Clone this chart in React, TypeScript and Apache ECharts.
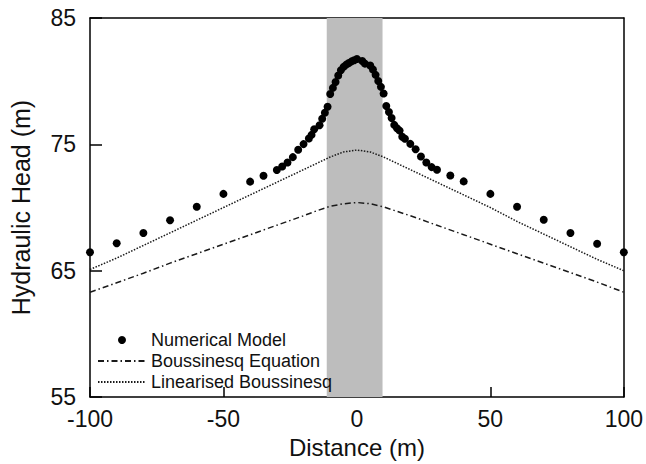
import React, { useEffect, useRef } from "react";
import * as echarts from "echarts";

// Numerical model (dots)
const numX = [
  -100, -90, -80, -70, -60, -50, -40, -35, -30, -28, -26, -24, -22, -20, -18, -17, -16, -14, -13, -12, -11,
  -10, -9, -8, -7, -6, -5, -4, -3, -2, -1, 0,
  2, 3, 5, 6, 7, 8, 9, 10, 11, 12, 13, 14, 15, 16, 17, 18, 20, 22, 24, 26, 28, 30, 35, 40, 50, 60, 70, 80, 90, 100,
];
const numY = [
  66.46, 67.17, 67.98, 69.0, 70.06, 71.08, 72.05, 72.52, 72.97, 73.25, 73.57, 73.99, 74.57, 75.02, 75.46, 75.75, 76.2, 76.51, 77.03, 77.5, 77.98,
  78.98, 79.47, 79.94, 80.45, 80.87, 81.13, 81.31, 81.44, 81.57, 81.65, 81.75,
  81.6, 81.39, 81.24, 80.92, 80.5, 80.02, 79.55, 79.03, 78.03, 77.56, 77.09, 76.54, 76.28, 76.09, 75.6, 75.45, 75.04, 74.62, 74.04, 73.57, 73.2, 72.99, 72.54, 72.07, 71.08, 70.06, 69.03, 67.98, 67.14, 66.46,
];

// Analytical curves
const lineX = [-100, -90, -80, -70, -60, -50, -40, -30, -20, -15, -10, -5, 0, 5, 10, 15, 20, 30, 40, 50, 60, 70, 80, 90, 100];
const boussY = [
  63.3, 64.05, 64.8, 65.6, 66.35, 67.1, 67.85, 68.6, 69.35, 69.75, 70.1, 70.3, 70.4, 70.3, 70.05, 69.7, 69.35, 68.6, 67.85, 67.1, 66.35, 65.6, 64.85, 64.1, 63.3,
];
const linY = [
  65.1, 66.0, 67.0, 68.0, 69.0, 70.0, 71.0, 72.0, 73.0, 73.5, 74.0, 74.4, 74.55, 74.4, 74.0, 73.5, 73.0, 72.0, 71.0, 70.0, 68.9, 67.9, 66.9, 65.9, 65.0,
];

const bandRange = [-11.3, 9.6];
const xTicks = { min: -100, max: 100, interval: 50 };
const yTicks = { min: 55, max: 85, interval: 10 };
const legendNames = ["Numerical Model", "Boussinesq Equation", "Linearised Boussinesq"];

const FONT = "Liberation Sans, Arial, Helvetica, sans-serif";

export default function App() {
  const ref = useRef<HTMLDivElement>(null);
  useEffect(() => {
    if (!ref.current) return;
    const chart = echarts.init(ref.current, null, { renderer: "svg" });
    const axisLine = { show: true, onZero: false, lineStyle: { color: "#000", width: 1.5 } };
    const hiddenSym = { color: "rgba(0,0,0,0)", borderWidth: 0 };
    chart.setOption({
      animation: false,
      backgroundColor: "#fff",
      textStyle: { fontFamily: FONT },
      grid: { left: 89, right: 19, top: 18, bottom: 65 },
      legend: {
        data: [
          { name: legendNames[0] },
          { name: legendNames[1], itemStyle: hiddenSym },
          { name: legendNames[2], itemStyle: hiddenSym },
        ],
        orient: "vertical",
        left: 92,
        top: 326,
        itemWidth: 48,
        itemHeight: 8,
        itemGap: 3,
        textStyle: { fontSize: 18, color: "#111", fontFamily: FONT },
      },
      xAxis: [
        {
          type: "value",
          ...xTicks,
          name: "Distance (m)",
          nameLocation: "middle",
          nameGap: 32,
          nameTextStyle: { fontSize: 24, color: "#111", fontFamily: FONT },
          axisLine,
          axisTick: { show: true, inside: true, length: 10, lineStyle: { color: "#000", width: 1.5 } },
          axisLabel: { fontSize: 23, color: "#111", margin: 10, fontFamily: FONT },
          splitLine: { show: false },
        },
        {
          type: "value",
          position: "top",
          ...xTicks,
          axisLine,
          axisTick: { show: false },
          axisLabel: { show: false },
          splitLine: { show: false },
        },
      ],
      yAxis: [
        {
          type: "value",
          ...yTicks,
          name: "Hydraulic Head (m)",
          nameLocation: "middle",
          nameGap: 57,
          nameTextStyle: { fontSize: 25, color: "#111", fontFamily: FONT },
          axisLine,
          axisTick: { show: true, inside: true, length: 12, lineStyle: { color: "#000", width: 1.5 } },
          axisLabel: { fontSize: 23, color: "#111", margin: 14, fontFamily: FONT },
          splitLine: { show: false },
        },
        {
          type: "value",
          position: "right",
          ...yTicks,
          axisLine,
          axisTick: { show: false },
          axisLabel: { show: false },
          splitLine: { show: false },
        },
      ],
      series: [
        {
          name: "band",
          type: "line",
          data: [],
          z: 1,
          silent: true,
          markArea: {
            silent: true,
            itemStyle: { color: "#bdbdbd" },
            data: [[{ xAxis: bandRange[0] }, { xAxis: bandRange[1] }]],
          },
        },
        {
          name: legendNames[1],
          type: "line",
          z: 3,
          symbol: "none",
          data: lineX.map((x, i) => [x, boussY[i]]),
          lineStyle: { color: "#1a1a1a", width: 1.5, type: [6, 3, 1.5, 3] },
          itemStyle: { color: "#1a1a1a" },
        },
        {
          name: legendNames[2],
          type: "line",
          z: 3,
          symbol: "none",
          data: lineX.map((x, i) => [x, linY[i]]),
          lineStyle: { color: "#1a1a1a", width: 1.5, type: [1.5, 1.5] },
          itemStyle: { color: "#1a1a1a" },
        },
        {
          name: legendNames[0],
          type: "scatter",
          z: 4,
          symbol: "circle",
          symbolSize: 8,
          itemStyle: { color: "#000", opacity: 1 },
          data: numX.map((x, i) => [x, numY[i]]),
        },
      ],
    });
    return () => chart.dispose();
  }, []);
  return (
    <div
      ref={ref}
      style={{ position: "absolute", left: 0, top: 0, width: 646, height: 464 }}
    />
  );
}
